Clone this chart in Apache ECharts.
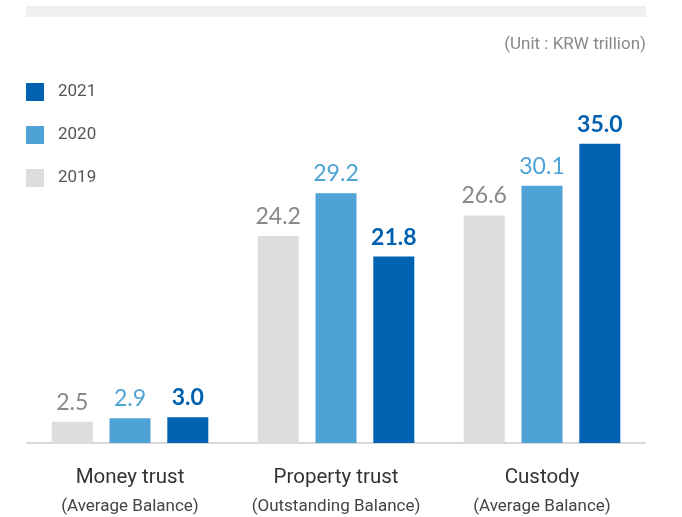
<!DOCTYPE html>
<html>
<head>
<meta charset="utf-8">
<title>Trust & Custody</title>
<script src="https://cdn.jsdelivr.net/npm/echarts@6/dist/echarts.min.js"></script>
<style>
  html, body { margin: 0; padding: 0; background: #fff; }
  #chart { width: 682px; height: 517px; }
</style>
</head>
<body>
<div id="chart"></div>
<script>
const categories = ['Money trust', 'Property trust', 'Custody']
const subLabels = ['(Average Balance)', '(Outstanding Balance)', '(Average Balance)']
const values2019 = [2.5, 24.2, 26.6]
const values2020 = [2.9, 29.2, 30.1]
const values2021 = [3.0, 21.8, 35.0]

const chart = echarts.init(document.getElementById('chart'))

function barSeries(name, data, color, labelColor, bold) {
  return {
    name: name,
    type: 'bar',
    data: data,
    barWidth: 41,
    barGap: '41%',
    itemStyle: { color: color },
    label: {
      show: true,
      position: 'top',
      distance: 8,
      fontFamily: 'Lato',
      fontSize: 23,
      fontWeight: bold ? 'bold' : 'normal',
      color: labelColor,
      formatter: p => p.value.toFixed(1)
    }
  }
}

const option = {
  animation: false,
  textStyle: { fontFamily: 'Roboto' },
  grid: { left: 27, right: 37, top: 101, bottom: 74 },
  legend: {
    data: ['2021', '2020', '2019'],
    orient: 'vertical',
    left: 26,
    top: 83,
    padding: 0,
    icon: 'rect',
    itemWidth: 18,
    itemHeight: 18,
    itemGap: 25,
    textStyle: { fontSize: 17, color: '#555', padding: [0, 0, 0, 9] }
  },
  graphic: [
    {
      type: 'rect',
      left: 26, top: 6,
      shape: { width: 620, height: 11 },
      style: { fill: '#efefef' }
    },
    {
      type: 'text',
      right: 36, top: 36,
      style: { text: '(Unit : KRW trillion)', fontFamily: 'Roboto', fontSize: 17, fill: '#888' }
    }
  ],
  xAxis: {
    type: 'category',
    data: categories,
    axisTick: { show: false },
    axisLine: { lineStyle: { color: '#d9d9d9', width: 2 } },
    axisLabel: {
      margin: 20,
      formatter: (v, i) => '{a|' + v + '}\n{b|' + subLabels[i] + '}',
      rich: {
        a: { fontSize: 20.5, lineHeight: 29, color: '#333', fontFamily: 'Roboto' },
        b: { fontSize: 17, lineHeight: 29, color: '#444', fontFamily: 'Roboto' }
      }
    }
  },
  yAxis: {
    type: 'value',
    min: 0,
    max: 40,
    show: false,
    splitLine: { show: false }
  },
  series: [
    barSeries('2019', values2019, '#dcdddd', '#888888', false),
    barSeries('2020', values2020, '#4ea2d5', '#4ea2d5', false),
    barSeries('2021', values2021, '#0062b1', '#0060b0', true)
  ]
}

chart.setOption(option)
</script>
</body>
</html>
